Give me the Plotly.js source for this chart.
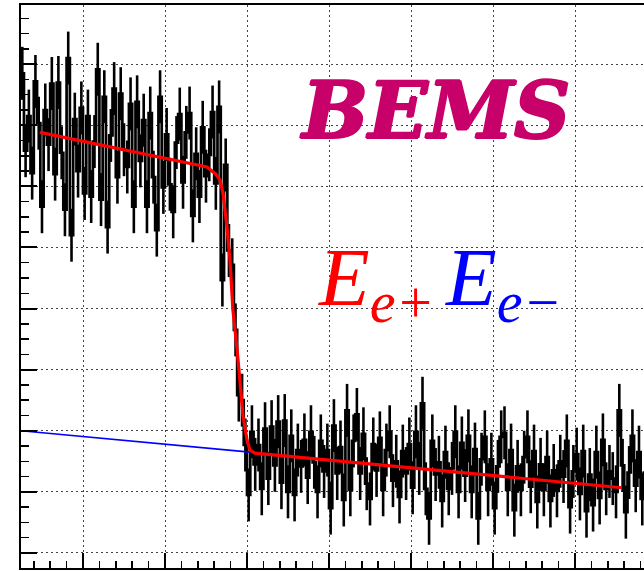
<!DOCTYPE html>
<html><head><meta charset="utf-8">
<script src="https://cdn.plot.ly/plotly-3.0.1.min.js"></script>
<style>
html,body{margin:0;padding:0;overflow:hidden;background:#fff;width:644px;height:571px}
#chart{position:absolute;left:0;top:0;width:700px;height:571px}
</style>
</head><body><div id="chart"></div>
<script>
// Histogram: counts per channel, first channel and channel width
const firstBin = 81;
const binWidth = 1;
const counts = [
531,455,489,433,523,482,400,495,461,521,
432,522,453,397,546,372,486,435,497,413,
489,410,464,535,407,508,380,470,516,429,
511,456,439,501,400,503,445,485,400,492,
429,377,508,419,471,422,395,463,491,424,
473,492,391,452,410,478,430,451,493,423,
498,
328,441,357,343,279,215,210,166,117,
179,147,166,123,182,133,184,146,189,129,
190,120,175,117,161,145,171,134,179,149,
120,170,140,161,104,185,138,164,112,200,
122,170,196,138,177,128,113,167,141,173,
122,161,179,131,150,115,160,138,167,124,
179,143,207,123,94,170,137,149,111,159,
123,143,179,120,168,136,175,120,162,94,
152,174,122,152,104,145,174,178,122,161,
102,145,122,154,174,125,160,110,147,122,
154,111,141,121,150,135,170,105,140,157,
118,160,101,137,107,159,114,171,123,140,
133,120,200,146,100,139,175,126,159,113,
139,119,149,107,142,122,158,116,139,110,
145,125,151,112,138,119,148
];
// Statistical uncertainty drawn on each channel
const countError = 26;
// Fitted function (edge + linear background)
const fitX = [86.9, 137.8, 140.5, 141.8, 142.7, 143.9, 144.8, 145.7, 147.0, 147.9, 148.8, 150.0, 150.9, 152.4, 264.3];
const fitY = [473, 439, 432, 426, 413, 380, 348, 299, 259, 227, 194, 171, 161, 158, 124];
// Linear background extrapolated below the edge
const bgX = [81.1, 150.9];
const bgY = [180, 159];

const titleText = 'BEMS';
const labelPos = '<i>E</i><sub><i>e+</i></sub>';
const labelNeg = '<i>E</i><sub><i>e\u2212</i></sub>';

const binCenters = counts.map((_, i) => firstBin + (i + 0.5) * binWidth);

const traces = [
  {x: binCenters, y: counts, type: 'scatter', mode: 'lines',
   line: {shape: 'hvh', color: '#000', width: 2.7},
   error_y: {type: 'constant', value: countError, color: '#000', thickness: 2.6, width: 0},
   hoverinfo: 'skip'},
  {x: bgX, y: bgY, type: 'scatter', mode: 'lines',
   line: {color: '#0000ff', width: 1.6}, hoverinfo: 'skip'},
  {x: fitX, y: fitY, type: 'scatter', mode: 'lines',
   line: {color: '#ff0000', width: 3.2}, hoverinfo: 'skip'}
];

const axisCommon = {
  showgrid: true, gridcolor: '#444', gridwidth: 1, griddash: '2px,3px',
  showline: true, linecolor: '#000', linewidth: 2, mirror: true,
  ticks: 'inside', tickcolor: '#000', tickwidth: 2,
  showticklabels: false, zeroline: false, fixedrange: true
};

const layout = {
  width: 700, height: 571,
  margin: {l: 21, r: 0, t: 5, b: 3, pad: 0},
  paper_bgcolor: '#fff', plot_bgcolor: '#fff',
  showlegend: false,
  xaxis: Object.assign({}, axisCommon, {
    range: [81.1, 288.1], tick0: 100, dtick: 25, ticklen: 15,
    minor: {dtick: 5, ticks: 'inside', ticklen: 7, tickwidth: 1.5, tickcolor: '#000', showgrid: false}
  }),
  yaxis: Object.assign({}, axisCommon, {
    range: [45.2, 598.1], tick0: 60, dtick: 60, ticklen: 16,
    minor: {dtick: 15, ticks: 'inside', ticklen: 8, tickwidth: 1.5, tickcolor: '#000', showgrid: false}
  }),
  annotations: [
    {xref: 'paper', yref: 'paper', x: 0.609, y: 0.897, xanchor: 'center', yanchor: 'top',
     text: '<b><i>' + titleText + '</i></b>', showarrow: false,
     font: {family: 'DejaVu Serif', size: 78, color: '#c8006a',
            shadow: '1.5px 0 0 #c8006a, -1px 0 0 #c8006a, 0 1px 0 #c8006a, 0 -1px 0 #c8006a'}},
    {xref: 'paper', yref: 'paper', x: 0.434, y: 0.603, xanchor: 'left', yanchor: 'top',
     text: labelPos, showarrow: false,
     font: {family: 'Liberation Serif', size: 83, color: '#ff0000'}},
    {xref: 'paper', yref: 'paper', x: 0.622, y: 0.603, xanchor: 'left', yanchor: 'top',
     text: labelNeg, showarrow: false,
     font: {family: 'Liberation Serif', size: 83, color: '#0000ff'}}
  ]
};

Plotly.newPlot('chart', traces, layout, {staticPlot: true, displayModeBar: false});
</script>
</body></html>
